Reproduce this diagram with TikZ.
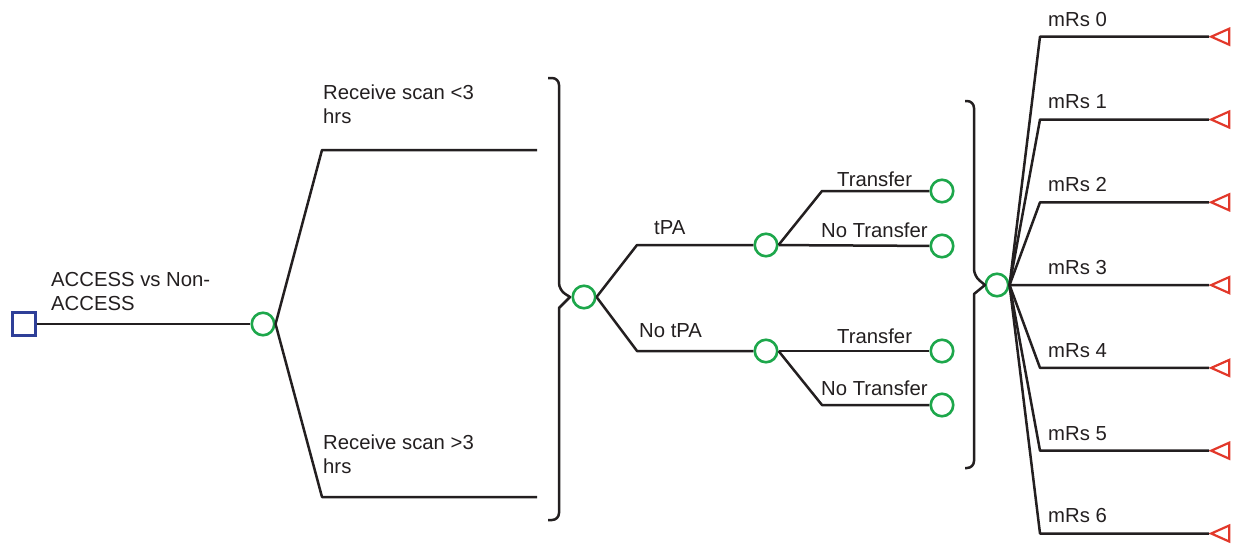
\documentclass[tikz,border=0pt]{standalone}
\usepackage{fontspec}
\setmainfont{Liberation Sans}
\usetikzlibrary{shapes.geometric}

\definecolor{decblue}{HTML}{2E3F98}
\definecolor{chancegreen}{HTML}{1DA74B}
\definecolor{endred}{HTML}{E2382A}
\definecolor{branchblack}{HTML}{231F20}

\begin{document}
\begin{tikzpicture}[x=1pt,y=-1pt,
    decision node/.style={rectangle,draw=decblue,line width=2.4pt,minimum size=23pt,inner sep=0pt},
    chance node/.style={circle,draw=chancegreen,fill=white,line width=2.6pt,minimum size=22.5pt,inner sep=0pt},
    end node/.style={isosceles triangle,isosceles triangle apex angle=60,isosceles triangle stretches,
      shape border rotate=180,draw=endred,line width=2.2pt,minimum width=16pt,minimum height=16pt,
      inner sep=0pt,anchor=apex},
    label node/.style={inner sep=0pt,font=\fontsize{20.3}{24}\selectfont,text=branchblack,align=left},
    branch line/.style={draw=branchblack,line width=2.5pt,line join=round},
    ]
  \useasboundingbox (0,0) rectangle (1239,544);
  \def\ygap{82.8}

  \node[decision node] (dec) at (24,324) {};
  \node[chance node] (c0) at (263,324) {};
  \node[chance node] (c1) at (584,297) {};
  \node[chance node] (tpa) at (766,245) {};
  \node[chance node] (notpa) at (766,351) {};
  \node[chance node] (t1) at (942,191) {};
  \node[chance node] (t2) at (942,246) {};
  \node[chance node] (t3) at (942,351) {};
  \node[chance node] (t4) at (942,405) {};
  \node[chance node] (c3) at (997,285) {};

  \node[label node,anchor=north west] (lacc) at (51,271.7) {ACCESS vs Non-\\ACCESS};
  \node[label node,anchor=north west] (lscan1) at (323,84.4) {Receive scan <3\\hrs};
  \node[label node,anchor=north west] (lscan2) at (323,435) {Receive scan >3\\hrs};
  \node[label node,anchor=base west] (ltpa) at (654,234) {tPA};
  \node[label node,anchor=base west] (lnotpa) at (639,337.3) {No tPA};
  \node[label node,anchor=base west] (ltr1) at (837,186.7) {Transfer};
  \node[label node,anchor=base west] (lnotr1) at (821,237) {No Transfer};
  \node[label node,anchor=base west] (ltr2) at (837,343.3) {Transfer};
  \node[label node,anchor=base west] (lnotr2) at (821,395) {No Transfer};

  \coordinate (r1) at (322,150);
  \coordinate (r1e) at (537,150);
  \coordinate (r2) at (322,497);
  \coordinate (r2e) at (537,497);
  \coordinate (a1) at (637,245);
  \coordinate (a2) at (637,351);
  \coordinate (b1) at (822,191);
  \coordinate (b4) at (822,405);

  \draw[draw=branchblack,line width=1.3pt] (dec) -- (c0);
  \draw[branch line] (c0.east) -- (r1) -- (r1e);
  \draw[branch line] (c0.east) -- (r2) -- (r2e);
  \draw[branch line] (c1.east) -- (a1) -- (tpa);
  \draw[branch line] (c1.east) -- (a2) -- (notpa);
  \draw[branch line] (tpa.east) -- (b1) -- (t1);
  \draw[branch line] (tpa) -- (t2);
  \draw[branch line] (notpa) -- (t3);
  \draw[branch line] (notpa.east) -- (b4) -- (t4);

  % braces in front of the chance nodes
  \draw[branch line] (548,78) [rounded corners=7pt] -| (559,290) [sharp corners] -- (570,297)
    -- (559,308) [rounded corners=7pt] |- (548,520);
  \draw[branch line] (965,101) [rounded corners=7pt] -| (974,276) [sharp corners] -- (985,285)
    -- (974,294) [rounded corners=7pt] |- (965,468);

  \foreach \i in {0,...,6} {
    \pgfmathsetmacro\yy{36.7+\ygap*\i}
    \coordinate (k\i) at (1040,\yy);
    \node[end node,minimum height=18pt] (m\i) at (1209,\yy) {};
    \node[label node,anchor=base west] (lm\i) at (1048,\yy-10.7) {mRs \i};
    \draw[branch line] (c3.east) -- (k\i) -- (m\i.apex);
  }
\end{tikzpicture}
\end{document}
